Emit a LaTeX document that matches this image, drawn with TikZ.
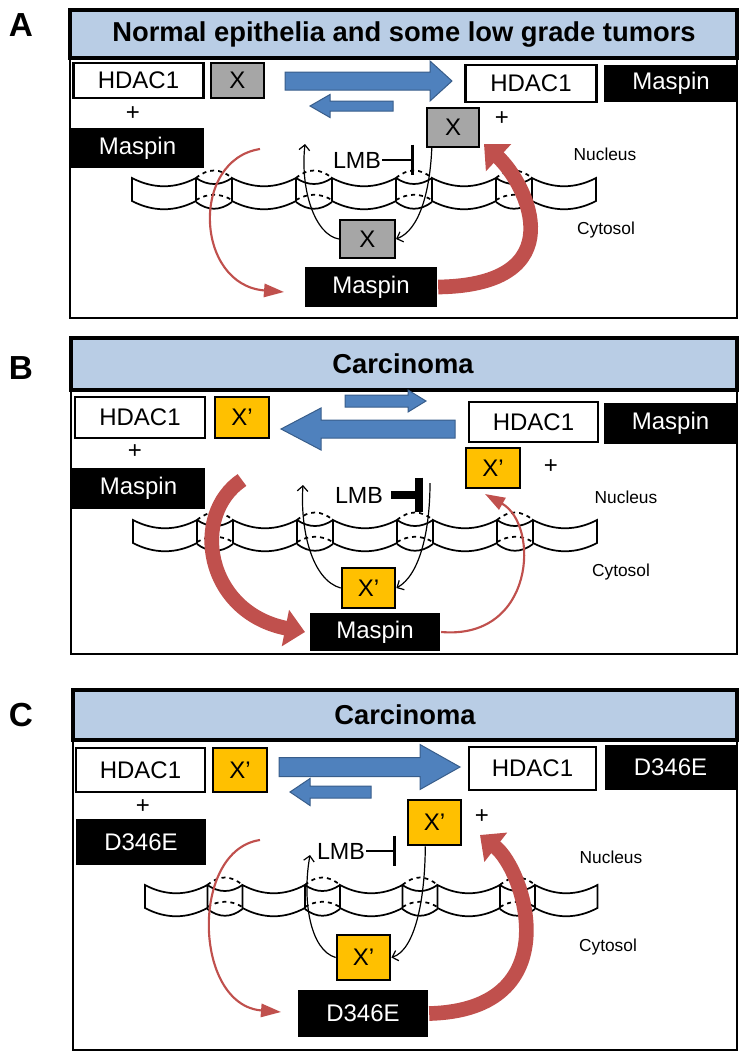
\documentclass[tikz,border=0pt]{standalone}
\usepackage{fontspec}
\setmainfont{Liberation Sans}
\usepackage{tikz}
\usetikzlibrary{arrows.meta}

\definecolor{hdrblue}{RGB}{185,205,229}
\definecolor{arrblue}{RGB}{79,129,189}
\definecolor{arrbluedark}{RGB}{56,93,138}
\definecolor{redc}{RGB}{192,80,77}
\definecolor{xgray}{RGB}{166,166,166}
\definecolor{xyellow}{RGB}{255,192,0}

% nuclear envelope: x0, y0, x stretch
\newcommand{\membrane}[3]{%
\begin{scope}[shift={(#1,#2)},xscale=#3]
\foreach \s in {0,100,200,300,400}{
\draw[memb] (\s,0) .. controls (\s+21,11) and (\s+43,11) .. (\s+64,0) -- (\s+64,23) .. controls (\s+43,34) and (\s+21,34) .. (\s,23) -- cycle;
}
\foreach \s in {64,164,264,364}{
\draw[memb] (\s,0) .. controls (\s+12,8) and (\s+24,8) .. (\s+36,0);
\draw[memb,dashed] (\s,0) .. controls (\s+12,-10) and (\s+24,-10) .. (\s+36,0);
\draw[memb,dashed] (\s,22) .. controls (\s+12,15) and (\s+24,15) .. (\s+36,22);
\draw[memb] (\s,24) .. controls (\s+12,33) and (\s+24,33) .. (\s+36,24);
}
\end{scope}}

% block arrow: tail x, tip x, mid y, body half, head half, head length
\newcommand{\blockarrow}[6]{%
\draw[bluearr] (#1,#3-#4) -- ({#2-(#6)},#3-#4) -- ({#2-(#6)},#3-#5) -- (#2,#3) -- ({#2-(#6)},#3+#5) -- ({#2-(#6)},#3+#4) -- (#1,#3+#4) -- cycle;}

\begin{document}
\begin{tikzpicture}[x=0.75pt,y=0.75pt,yscale=-1,xscale=1,
  box/.style={inner sep=0pt, line width=1.8pt, font=\fontsize{18}{20}\selectfont},
  sz/.style 2 args={minimum width=#1pt, minimum height=#2pt},
  hdbox/.style={box, draw, fill=white},
  mpbox/.style={box, fill=black, text=white},
  xgbox/.style={box, draw, fill=xgray},
  xybox/.style={box, draw, fill=xyellow},
  plussign/.style={inner sep=0pt, font=\fontsize{18}{20}\selectfont},
  comp/.style={inner sep=0pt, font=\fontsize{13}{15}\selectfont},
  lmbtext/.style={inner sep=0.75pt, font=\fontsize{17.5}{19}\selectfont},
  hdrtext/.style={inner sep=0pt, font=\bfseries\fontsize{20.5}{23}\selectfont},
  panel/.style={inner sep=0pt, font=\bfseries\fontsize{25}{28}\selectfont},
  frm/.style={line width=1.5pt},
  hdrbox/.style={draw, line width=2.5pt, fill=hdrblue},
  memb/.style={line width=1.3pt},
  bluearr/.style={fill=arrblue, draw=arrbluedark, line width=0.75pt},
  thinred/.style={draw=redc, line width=1.6pt, -{Triangle[length=15pt,width=10pt]}},
  thickred/.style={draw=redc, line width=11pt, -{Triangle[length=15pt,width=27pt]}},
  blk/.style={line width=0.9pt, -{Straight Barb[length=4pt,width=8pt]}},
  inhib/.style={line width=2.2pt, -{Bar[width=23pt]}},
  inhibB/.style={line width=6pt, -{Bar[width=26pt]}}
]
\useasboundingbox (0,0) rectangle (742,1057);

%%%%% Panel A
\node[panel] (labA) at (21,25) {A};
\draw[frm] (70,10) rectangle (737,318);
\draw[hdrbox] (70,10) rectangle (737,58);
\node[hdrtext] (titA) at (404,34) {Normal epithelia and some low grade tumors};
\membrane{132}{178}{1}
\blockarrow{285}{452}{81}{9}{20}{22}
\blockarrow{393}{310}{106}{5}{11.5}{-20}

% Boxes
\node[hdbox, sz={97.5}{26.5}] (hdacAL) at (138.5,80.5) {HDAC1};
\node[xgbox, sz={39.5}{26.5}] (xAL) at (237.5,80.5) {X};
\node[hdbox, sz={98}{28}] (hdacAR) at (531,83.5) {HDAC1};
\node[mpbox, sz={100.5}{28}] (maspAR) at (671,83.5) {Maspin};
\node[mpbox, sz={100}{30}] (maspAL) at (137.5,148) {Maspin};
\node[xgbox, sz={39}{29}] (xAR) at (453,127.5) {X};
\node[xgbox, sz={41}{28.5}] (xAC) at (367.5,239) {X};
\node[mpbox, sz={99}{30}] (maspAC) at (371,287) {Maspin};

% Text Node
\node[plussign] (plAL) at (133,114) {+};
\node[plussign] (plAR) at (502,119) {+};
\node[comp] (nucA) at (605,154) {Nucleus};
\node[comp] (cytA) at (606,230) {Cytosol};
\node[lmbtext] (lmbA) at (357,160) {LMB};
\coordinate (barA) at (414,160);
\draw[inhib] (lmbA) -- (barA);

% Red arrows
\coordinate (rA1) at (260,149);
\coordinate (rA2) at (284,292);
\coordinate (rA3) at (484,144);
\draw[thinred] (rA1) .. controls (190,160) and (195,285) .. (rA2);
\draw[thickred] (maspAC.east) .. controls (575,285) and (528,185) .. (rA3);

% Export / import
\coordinate (tA1) at (305,144);
\draw[blk] (xAC.west) .. controls (315,235) and (300,190) .. (tA1);
\draw[blk] ([xshift=4.5pt]xAR.south west) .. controls (430,190) and (420,230) .. (xAC.east);

%%%%% Panel B
\node[panel] (labB) at (21,368) {B};
\draw[frm] (71,338) rectangle (737,654);
\draw[hdrbox] (71,338) rectangle (737,390);
\node[hdrtext] (titB) at (403,364) {Carcinoma};
\membrane{133}{520}{1}
\blockarrow{345}{426}{401}{6}{11}{18}
\blockarrow{455}{281}{429}{9}{21}{-40}

% Boxes
\node[hdbox, sz={97.5}{30.5}] (hdacBL) at (140,417.5) {HDAC1};
\node[xybox, sz={40.5}{30.5}] (xBL) at (242,417.5) {X’};
\node[hdbox, sz={97}{30}] (hdacBR) at (533.5,422) {HDAC1};
\node[mpbox, sz={99.5}{30.5}] (maspBR) at (670.5,423.5) {Maspin};
\node[xybox, sz={40.5}{30}] (xBR) at (493,468) {X’};
\node[mpbox, sz={100}{30.5}] (maspBL) at (138.5,488.5) {Maspin};
\node[xybox, sz={40}{30}] (xBC) at (368.5,588) {X’};
\node[mpbox, sz={97.5}{28.5}] (maspBC) at (375,632) {Maspin};

% Text Node
\node[plussign] (plBL) at (135,452) {+};
\node[plussign] (plBR) at (551,467) {+};
\node[comp] (nucB) at (626,497) {Nucleus};
\node[comp] (cytB) at (621,572) {Cytosol};
\node[lmbtext] (lmbB) at (359,495) {LMB};
\coordinate (barB) at (423,495);
\draw[inhibB, shorten <=5pt] (lmbB) -- (barB);

% Red arrows
\coordinate (rB1) at (242,480);
\coordinate (rB2) at (305,632);
\coordinate (rB3) at (485,494);
\draw[thickred] (rB1) .. controls (190,515) and (205,612) .. (rB2);
\draw[thinred] (maspBC.east) .. controls (535,640) and (540,525) .. (rB3);

% Export / import
\coordinate (tB1) at (303,485);
\coordinate (sB2) at (430,483);
\draw[blk] (xBC.west) .. controls (312,580) and (300,530) .. (tB1);
\draw[blk] (sB2) .. controls (430,530) and (420,575) .. (xBC.east);

%%%%% Panel C
\node[panel] (labC) at (21,715) {C};
\draw[frm] (73,690) rectangle (737,1050);
\draw[hdrbox] (73,690) rectangle (737,740);
\node[hdrtext] (titC) at (405,715) {Carcinoma};
\membrane{145}{885}{0.975}
\blockarrow{279}{460}{767}{9.5}{22.5}{40}
\blockarrow{371}{290}{792}{6}{13.5}{-20}

% Boxes
\node[hdbox, sz={97}{33}] (hdacCL) at (140.5,770) {HDAC1};
\node[xybox, sz={40.5}{33}] (xCL) at (240,770) {X’};
\node[hdbox, sz={95}{32}] (hdacCR) at (532.5,768.5) {HDAC1};
\node[mpbox, sz={98}{34}] (dCR) at (670.5,767.5) {D346E};
\node[mpbox, sz={97.5}{34.5}] (dCL) at (141,842) {D346E};
\node[xybox, sz={40}{34}] (xCR) at (434.5,822.5) {X’};
\node[xybox, sz={40}{34}] (xCC) at (363.5,957.5) {X’};
\node[mpbox, sz={97.5}{35}] (dCC) at (363,1013.5) {D346E};

% Text Node
\node[plussign] (plCL) at (143,807) {+};
\node[plussign] (plCR) at (482,817) {+};
\node[comp] (nucC) at (611,857) {Nucleus};
\node[comp] (cytC) at (608,947) {Cytosol};
\node[lmbtext] (lmbC) at (341,851) {LMB};
\coordinate (barC) at (396,851);
\draw[inhib] (lmbC) -- (barC);

% Red arrows
\coordinate (rC1) at (260,840);
\coordinate (rC2) at (281,1012);
\coordinate (rC3) at (480,835);
\draw[thinred] (rC1) .. controls (190,850) and (193,1005) .. (rC2);
\draw[thickred] (dCC.east) .. controls (570,1010) and (525,870) .. (rC3);

% Export / import
\coordinate (tC1) at (310,855);
\draw[blk] (xCC.west) .. controls (310,950) and (302,900) .. (tC1);
\draw[blk] ([xshift=14pt]xCR.south west) .. controls (425,900) and (415,950) .. (xCC.east);

\end{tikzpicture}
\end{document}
